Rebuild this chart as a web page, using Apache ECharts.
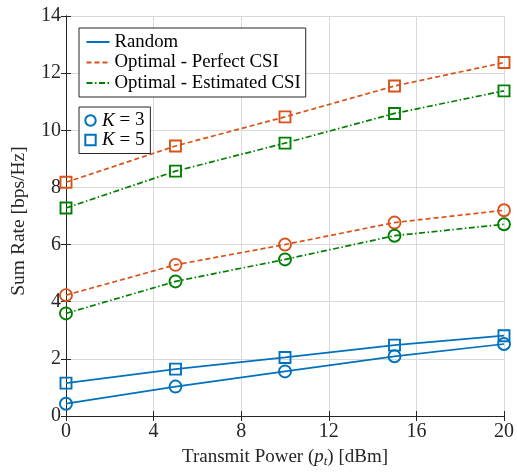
<!DOCTYPE html>
<html><head><meta charset="utf-8">
<script src="https://cdn.jsdelivr.net/npm/echarts@6/dist/echarts.min.js"></script>
<style>html,body{margin:0;padding:0;background:#fff}#c{width:517px;height:473px}</style>
</head><body><div id="c"></div>
<script>
const xValues = [0, 5, 10, 15, 20];
const xTicks = [0, 4, 8, 12, 16, 20];
const yTicks = [0, 2, 4, 6, 8, 10, 12, 14];
const randomK3 = [0.43, 1.03, 1.56, 2.09, 2.52];
const randomK5 = [1.15, 1.64, 2.05, 2.48, 2.81];
const perfectK3 = [4.23, 5.29, 6.00, 6.77, 7.20];
const perfectK5 = [8.18, 9.45, 10.47, 11.55, 12.37];
const estimatedK3 = [3.59, 4.71, 5.48, 6.31, 6.71];
const estimatedK5 = [7.28, 8.57, 9.55, 10.59, 11.38];
const methodNames = ['Random', 'Optimal - Perfect CSI', 'Optimal - Estimated CSI'];
const markerNames = ['K = 3', 'K = 5'];

const BLUE = '#0072BD', ORANGE = '#D95319', GREEN = '#008000';
const FONT = '"Liberation Serif", "DejaVu Serif", serif';
const TXT = '#262626';
const styles = [
  {color: BLUE, type: 'solid'},
  {color: ORANGE, type: [5, 3]},
  {color: GREEN, type: [6, 2.5, 1.5, 2.5]}
];
const pairs = (ys) => xValues.map((x, i) => [x, ys[i]]);

function dataSeries(name, ys, st, symbol, size) {
  return {
    name: name, type: 'line', data: pairs(ys),
    symbol: symbol, symbolSize: size, showSymbol: true,
    lineStyle: {color: st.color, width: 1.7, type: st.type},
    itemStyle: {color: 'transparent', borderColor: st.color, borderWidth: 1.9},
    emphasis: {disabled: true}, silent: true, z: 3
  };
}

const series = [
  dataSeries('r3', randomK3, styles[0], 'circle', 12),
  dataSeries('r5', randomK5, styles[0], 'rect', 11),
  dataSeries('p3', perfectK3, styles[1], 'circle', 12),
  dataSeries('p5', perfectK5, styles[1], 'rect', 11),
  dataSeries('e3', estimatedK3, styles[2], 'circle', 12),
  dataSeries('e5', estimatedK5, styles[2], 'rect', 11)
];
methodNames.forEach((n, i) => series.push({
  name: n, type: 'line', data: [], symbol: 'none', showSymbol: false,
  lineStyle: {color: styles[i].color, width: 1.8, type: styles[i].type},
  itemStyle: {color: styles[i].color}
}));
series.push({name: markerNames[0], type: 'line', data: [], symbol: 'emptyCircle',
  lineStyle: {width: 0, opacity: 0}, itemStyle: {color: BLUE}});
series.push({name: markerNames[1], type: 'line', data: [], symbol: 'emptyRect',
  lineStyle: {width: 0, opacity: 0}, itemStyle: {color: BLUE}});

const axisCommon = {
  axisLine: {show: true, lineStyle: {color: TXT, width: 1}},
  axisTick: {show: true, inside: true, length: 5, lineStyle: {color: TXT}},
};

const chart = echarts.init(document.getElementById('c'), null, {renderer: 'canvas'});
chart.setOption({
  animation: false,
  backgroundColor: '#fff',
  grid: {left: 66, right: 9, top: 16, bottom: 50, containLabel: false},
  xAxis: [
    Object.assign({
      type: 'value', min: xTicks[0], max: xTicks[xTicks.length - 1], interval: xTicks[1] - xTicks[0],
      position: 'bottom',
      name: '{n|Transmit Power (}{i|p}{s|t}{n|) [dBm]}',
      nameLocation: 'middle', nameGap: 30,
      nameTextStyle: {fontFamily: FONT, fontSize: 19, color: TXT,
        rich: {n: {fontFamily: FONT, fontSize: 19, color: TXT},
               i: {fontFamily: FONT, fontSize: 19, fontStyle: 'italic', color: TXT},
               s: {fontFamily: FONT, fontSize: 13, fontStyle: 'italic', color: TXT, padding: [9, 0, 0, 0]}}},
      axisLabel: {fontFamily: FONT, fontSize: 20, color: TXT, margin: 6},
      splitLine: {show: true, lineStyle: {color: '#d9d9d9', width: 1}}
    }, axisCommon),
    Object.assign({
      type: 'value', min: xTicks[0], max: xTicks[xTicks.length - 1], interval: xTicks[1] - xTicks[0],
      position: 'top', axisLabel: {show: false}, splitLine: {show: false}
    }, axisCommon)
  ],
  yAxis: [
    Object.assign({
      type: 'value', min: yTicks[0], max: yTicks[yTicks.length - 1], interval: yTicks[1] - yTicks[0],
      position: 'left',
      name: 'Sum Rate [bps/Hz]', nameLocation: 'middle', nameGap: 37,
      nameTextStyle: {fontFamily: FONT, fontSize: 19.5, color: TXT, padding: [0, 10, 0, 0]},
      axisLabel: {fontFamily: FONT, fontSize: 20, color: TXT, margin: 5},
      splitLine: {show: true, lineStyle: {color: '#d9d9d9', width: 1}}
    }, axisCommon),
    Object.assign({
      type: 'value', min: yTicks[0], max: yTicks[yTicks.length - 1], interval: yTicks[1] - yTicks[0],
      position: 'right', axisLabel: {show: false}, splitLine: {show: false}
    }, axisCommon)
  ],
  legend: [
    {
      data: methodNames, orient: 'vertical', left: 79, top: 28,
      itemWidth: 23, itemHeight: 14, itemGap: 1.5,
      padding: [4.5, 5, 4.5, 6.5],
      backgroundColor: '#fff', borderColor: TXT, borderWidth: 1, borderRadius: 0,
      itemStyle: {opacity: 0},
      textStyle: {fontFamily: FONT, fontSize: 18.8, lineHeight: 19, color: '#000'},
      selectedMode: false
    },
    {
      data: markerNames, orient: 'vertical', left: 79, top: 107,
      itemWidth: 13, itemHeight: 13, itemGap: 0.5,
      padding: [4, 6, 4, 5],
      backgroundColor: '#fff', borderColor: TXT, borderWidth: 1, borderRadius: 0,
      formatter: (n) => '{k|K} = ' + n.split('= ')[1],
      textStyle: {fontFamily: FONT, fontSize: 19, lineHeight: 17, color: '#000',
        rich: {k: {fontFamily: FONT, fontSize: 19, lineHeight: 17, fontStyle: 'italic', color: '#000'}}},
      selectedMode: false
    }
  ],
  series: series
});
</script></body></html>
